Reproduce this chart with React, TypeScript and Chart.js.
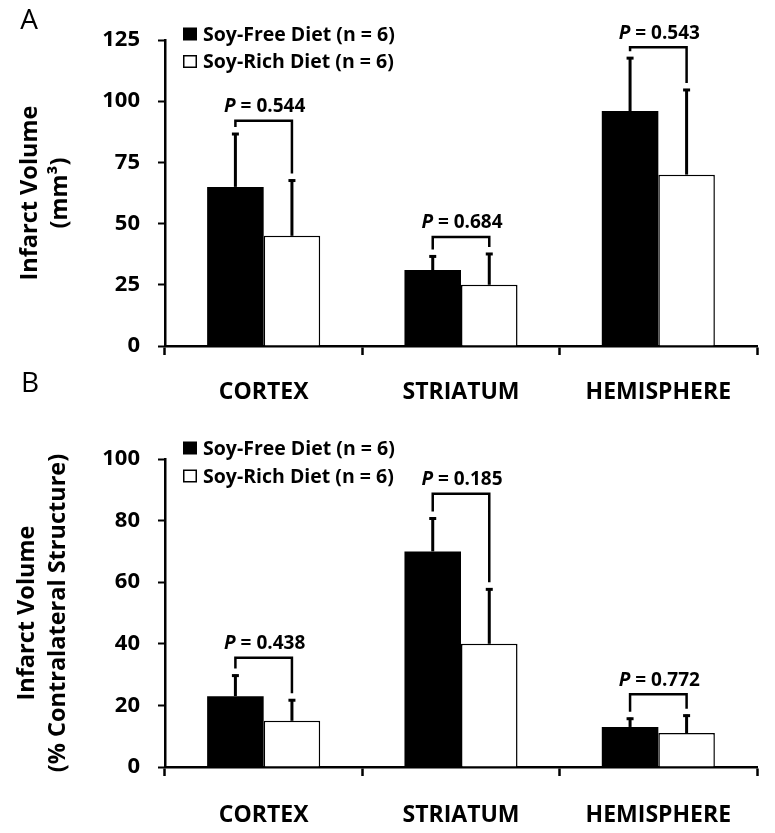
import React, { useEffect, useRef } from "react";
import { Chart, registerables } from "chart.js";

Chart.register(...registerables);

// ---------- data ----------
const categories = ["CORTEX", "STRIATUM", "HEMISPHERE"];
const seriesLabels = ["Soy-Free Diet (n = 6)", "Soy-Rich Diet (n = 6)"];

// Panel A: infarct volume (mm³)
const aSoyFree = [65, 31, 96];
const aSoyFreeSD = [22, 6, 22];
const aSoyRich = [45, 25, 70];
const aSoyRichSD = [23, 13, 35];
const aPValues = ["0.544", "0.684", "0.543"];
const aBracketLevels = [92, 44.5, 122];
const aTicks = [0, 25, 50, 75, 100, 125];

// Panel B: infarct volume (% contralateral structure)
const bSoyFree = [23, 70, 13];
const bSoyFreeSD = [7, 11, 3];
const bSoyRich = [15, 40, 11];
const bSoyRichSD = [7, 18, 6];
const bPValues = ["0.438", "0.185", "0.772"];
const bBracketLevels = [35.5, 88.7, 23.6];
const bTicks = [0, 20, 40, 60, 80, 100];

const FONT = "'Open Sans', sans-serif";

type PanelCfg = {
  letter: string;
  letterPos: [number, number];
  soyFree: number[];
  soyFreeSD: number[];
  soyRich: number[];
  soyRichSD: number[];
  pValues: string[];
  bracketLevels: number[];
  ticks: number[];
  yTitle: string[];
  titleLineHeight: number;
  titlePadTop: number;
  width: number;
  height: number;
  padTop: number;
  padRight: number;
  yAxisWidth: number;
  xAxisHeight: number;
  legendRows: number[];
  labelPadding: number;
};

function makePlugin(cfg: PanelCfg) {
  return {
    id: "panelExtras" + cfg.letter,
    afterDatasetsDraw(chart: any) {
      const ctx = chart.ctx;
      const yScale = chart.scales.y;
      const m0 = chart.getDatasetMeta(0);
      const m1 = chart.getDatasetMeta(1);
      const sds = [cfg.soyFreeSD, cfg.soyRichSD];
      const vals = [cfg.soyFree, cfg.soyRich];
      ctx.save();
      ctx.strokeStyle = "#000";
      ctx.fillStyle = "#000";
      // error bars
      [m0, m1].forEach((meta: any, di: number) => {
        meta.data.forEach((el: any, j: number) => {
          const top = yScale.getPixelForValue(vals[di][j] + sds[di][j]);
          ctx.lineWidth = 3;
          ctx.lineCap = "butt";
          ctx.beginPath();
          ctx.moveTo(el.x, el.y);
          ctx.lineTo(el.x, top);
          ctx.stroke();
          ctx.beginPath();
          ctx.moveTo(el.x - 3.5, top + 1);
          ctx.lineTo(el.x + 3.5, top + 1);
          ctx.stroke();
        });
      });
      // brackets + P labels
      categories.forEach((_c, j) => {
        const xL = m0.data[j].x;
        const xR = m1.data[j].x;
        const yB = yScale.getPixelForValue(cfg.bracketLevels[j]);
        const eL = yScale.getPixelForValue(cfg.soyFree[j] + cfg.soyFreeSD[j]) - 6;
        const eR = yScale.getPixelForValue(cfg.soyRich[j] + cfg.soyRichSD[j]) - 6;
        ctx.lineWidth = 2.5;
        ctx.lineJoin = "miter";
        ctx.beginPath();
        ctx.moveTo(xL, eL);
        ctx.lineTo(xL, yB);
        ctx.lineTo(xR, yB);
        ctx.lineTo(xR, eR);
        ctx.stroke();
        // label
        const pFont = `italic bold 19px ${FONT}`;
        const restFont = `bold 19px ${FONT}`;
        const rest = " = " + cfg.pValues[j];
        ctx.font = pFont;
        const wP = ctx.measureText("P").width;
        ctx.font = restFont;
        const wR = ctx.measureText(rest).width;
        const cx = (xL + xR) / 2 + 1;
        const startX = cx - (wP + wR) / 2;
        const ty = yB - 14;
        ctx.textBaseline = "middle";
        ctx.textAlign = "left";
        ctx.font = pFont;
        ctx.fillText("P", startX, ty);
        ctx.font = restFont;
        ctx.fillText(rest, startX + wP, ty);
      });
      // legend
      const lx = chart.chartArea.left + 18;
      cfg.legendRows.forEach((ry, i) => {
        ctx.lineWidth = 1.5;
        if (i === 0) {
          ctx.fillStyle = "#000";
          ctx.fillRect(lx, ry - 6.5, 14, 13);
        } else {
          ctx.fillStyle = "#fff";
          ctx.fillRect(lx + 0.75, ry - 5.75, 12.5, 11.5);
          ctx.strokeRect(lx + 0.75, ry - 5.75, 12.5, 11.5);
        }
        ctx.fillStyle = "#000";
        ctx.font = `bold 19.5px ${FONT}`;
        ctx.textBaseline = "middle";
        ctx.textAlign = "left";
        ctx.fillText(seriesLabels[i], lx + 20, ry + 1);
      });
      // panel letter
      ctx.font = `28px ${FONT}`;
      ctx.textAlign = "center";
      ctx.textBaseline = "middle";
      ctx.fillText(cfg.letter, cfg.letterPos[0], cfg.letterPos[1]);
      ctx.restore();
    },
  };
}

function Panel({ cfg, top }: { cfg: PanelCfg; top: number }) {
  const ref = useRef<HTMLCanvasElement | null>(null);
  useEffect(() => {
    if (!ref.current) return;
    const tickMin = cfg.ticks[0];
    const tickMax = cfg.ticks[cfg.ticks.length - 1];
    const step = cfg.ticks[1] - cfg.ticks[0];
    const chart = new Chart(ref.current, {
      type: "bar",
      data: {
        labels: categories,
        datasets: [
          {
            label: seriesLabels[0],
            data: cfg.soyFree,
            backgroundColor: "#000",
            borderWidth: 0,
            barPercentage: 1,
            categoryPercentage: 0.573,
          },
          {
            label: seriesLabels[1],
            data: cfg.soyRich,
            backgroundColor: "#fff",
            borderColor: "#000",
            borderWidth: 1.5,
            barPercentage: 1,
            categoryPercentage: 0.573,
          },
        ],
      },
      options: {
        responsive: false,
        animation: false,
        layout: { padding: { top: cfg.padTop, right: cfg.padRight, left: 0, bottom: 0 } },
        plugins: { legend: { display: false }, tooltip: { enabled: false } },
        scales: {
          x: {
            grid: {
              drawOnChartArea: false,
              drawTicks: true,
              tickLength: 9,
              tickColor: "#000",
              tickWidth: 2.5,
              offset: true,
            },
            border: { color: "#000", width: 2.5 },
            ticks: {
              color: "#000",
              font: { family: FONT, size: 23, weight: "bold" },
              padding: cfg.labelPadding,
              maxRotation: 0,
            },
            afterFit: (s: any) => {
              s.height = cfg.xAxisHeight;
            },
          },
          y: {
            min: tickMin,
            max: tickMax,
            grid: {
              drawOnChartArea: false,
              drawTicks: true,
              tickLength: 7,
              tickColor: "#000",
              tickWidth: 2,
            },
            border: { color: "#000", width: 2.5 },
            ticks: {
              stepSize: step,
              color: "#000",
              font: { family: FONT, size: 22, weight: "bold" },
              padding: 18,
            },
            title: {
              display: true,
              text: cfg.yTitle,
              color: "#000",
              font: { family: FONT, size: 23.5, weight: "bold", lineHeight: cfg.titleLineHeight },
              padding: { top: cfg.titlePadTop, bottom: 0 },
            },
            afterFit: (s: any) => {
              s.width = cfg.yAxisWidth;
            },
          },
        },
      },
      plugins: [makePlugin(cfg)],
    } as any);
    return () => chart.destroy();
  }, [cfg]);
  return (
    <canvas
      ref={ref}
      width={cfg.width}
      height={cfg.height}
      style={{ position: "absolute", left: 0, top, width: cfg.width, height: cfg.height }}
    />
  );
}

const panelA: PanelCfg = {
  letter: "A",
  letterPos: [29, 21],
  soyFree: aSoyFree,
  soyFreeSD: aSoyFreeSD,
  soyRich: aSoyRich,
  soyRichSD: aSoyRichSD,
  pValues: aPValues,
  bracketLevels: aBracketLevels,
  ticks: aTicks,
  yTitle: ["Infarct Volume", "(mm³)"],
  titleLineHeight: 30 / 23.5,
  titlePadTop: 15,
  width: 775,
  height: 420,
  padTop: 40,
  padRight: 18,
  yAxisWidth: 165,
  xAxisHeight: 74,
  legendRows: [34, 61.5],
  labelPadding: 24,
};

const panelB: PanelCfg = {
  letter: "B",
  letterPos: [30, 24],
  soyFree: bSoyFree,
  soyFreeSD: bSoyFreeSD,
  soyRich: bSoyRich,
  soyRichSD: bSoyRichSD,
  pValues: bPValues,
  bracketLevels: bBracketLevels,
  ticks: bTicks,
  yTitle: ["Infarct Volume", "(% Contralateral Structure)"],
  titleLineHeight: 31 / 23.5,
  titlePadTop: 11.5,
  width: 775,
  height: 473,
  padTop: 99,
  padRight: 18,
  yAxisWidth: 165,
  xAxisHeight: 66,
  legendRows: [88, 116],
  labelPadding: 26,
};

export default function App() {
  return (
    <div style={{ position: "absolute", left: 0, top: 0, width: 775, height: 833, background: "#fff" }}>
      <Panel cfg={panelA} top={0} />
      <Panel cfg={panelB} top={360} />
    </div>
  );
}
